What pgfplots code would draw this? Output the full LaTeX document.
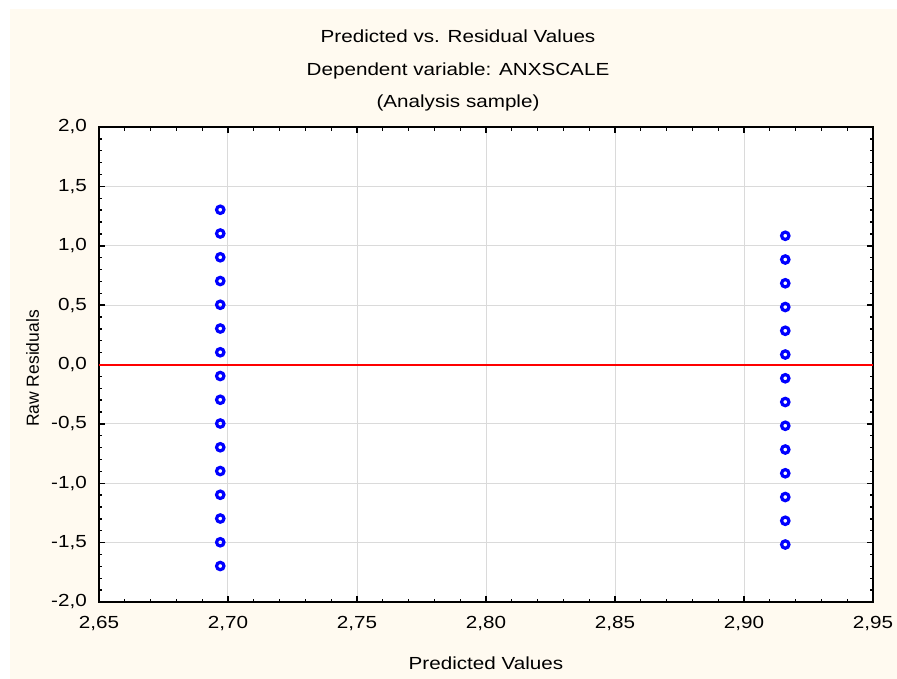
\documentclass[border=0pt]{standalone}
\usepackage{fontspec}
\setmainfont{Liberation Sans}[FakeStretch=1.18]
\newfontfamily\ylabfont{Liberation Sans}
\usepackage{pgfplots}
\pgfplotsset{compat=1.18}
\definecolor{bgcream}{RGB}{255,250,240}
\definecolor{gridgray}{RGB}{218,218,218}
\definecolor{mkblue}{RGB}{0,0,255}

\pgfplotstableread{
x y
2.697 1.303
2.697 1.103
2.697 0.903
2.697 0.703
2.697 0.503
2.697 0.303
2.697 0.103
2.697 -0.097
2.697 -0.297
2.697 -0.497
2.697 -0.697
2.697 -0.897
2.697 -1.097
2.697 -1.297
2.697 -1.497
2.697 -1.697
}\leftcol

\pgfplotstableread{
x y
2.916 1.084
2.916 0.884
2.916 0.684
2.916 0.484
2.916 0.284
2.916 0.084
2.916 -0.116
2.916 -0.316
2.916 -0.516
2.916 -0.716
2.916 -0.916
2.916 -1.116
2.916 -1.316
2.916 -1.516
}\rightcol

\begin{document}
\begin{tikzpicture}
\fill[white] (-99bp,-77bp) rectangle (798bp,602bp);
\fill[bgcream] (-89bp,-77bp) rectangle (798bp,593bp);
\begin{axis}[
  at={(0,0)}, anchor=south west,
  scale only axis, width=774bp, height=475bp,
  xmin=2.65, xmax=2.95, ymin=-2, ymax=2,
  axis background/.style={fill=white},
  xtick={2.65,2.70,2.75,2.80,2.85,2.90,2.95},
  ytick={-2,-1.5,-1,-0.5,0,0.5,1,1.5,2},
  minor x tick num=4, minor y tick num=4,
  tick align=inside, xtick pos=both, ytick pos=both,
  major tick length=6bp, minor tick length=3.5bp,
  major tick style={line width=1.5bp, black},
  minor tick style={line width=1.3bp, black},
  axis line style={line width=2.2bp, black},
  grid=major,
  major grid style={line width=1bp, gridgray},
  /pgf/number format/assume math mode=true,
  /pgf/number format/use comma,
  /pgf/number format/fixed,
  /pgf/number format/fixed zerofill,
  /pgf/number format/1000 sep={},
  xticklabel style={/pgf/number format/precision=2, font=\fontsize{17.5bp}{20bp}\selectfont, inner sep=0pt, anchor=north, yshift=-14bp},
  yticklabel style={/pgf/number format/precision=1, font=\fontsize{17.5bp}{20bp}\selectfont, inner sep=0pt, anchor=east, xshift=-12bp},
  xlabel={Predicted Values},
  every axis x label/.style={at={(axis description cs:0.5,0)}, anchor=base, yshift=-67bp, inner sep=0pt, font=\fontsize{17.5bp}{20bp}\selectfont},
  ylabel={Raw Residuals},
  every axis y label/.style={at={(axis description cs:0,0.5)}, rotate=90, anchor=base, yshift=60bp, xshift=-4bp, inner sep=0pt, font=\ylabfont\fontsize{17.5bp}{20bp}\selectfont},
  title={Predicted vs. Residual Values\\Dependent variable: ANXSCALE\\(Analysis sample)},
  every axis title/.style={at={(axis description cs:0.5,1)}, anchor=south, yshift=15.5bp, xshift=-28bp, inner sep=0pt, align=center, font=\fontsize{17.5bp}{32.5bp}\selectfont},
]
\addplot[red, line width=2bp] coordinates {(2.65,0) (2.95,0)};
\addplot[only marks, mark=o, mark size=3.7bp, mark options={line width=3.2bp, mkblue}] table[x=x,y=y] {\leftcol};
\addplot[only marks, mark=o, mark size=3.7bp, mark options={line width=3.2bp, mkblue}] table[x=x,y=y] {\rightcol};
\end{axis}
\end{tikzpicture}
\end{document}
